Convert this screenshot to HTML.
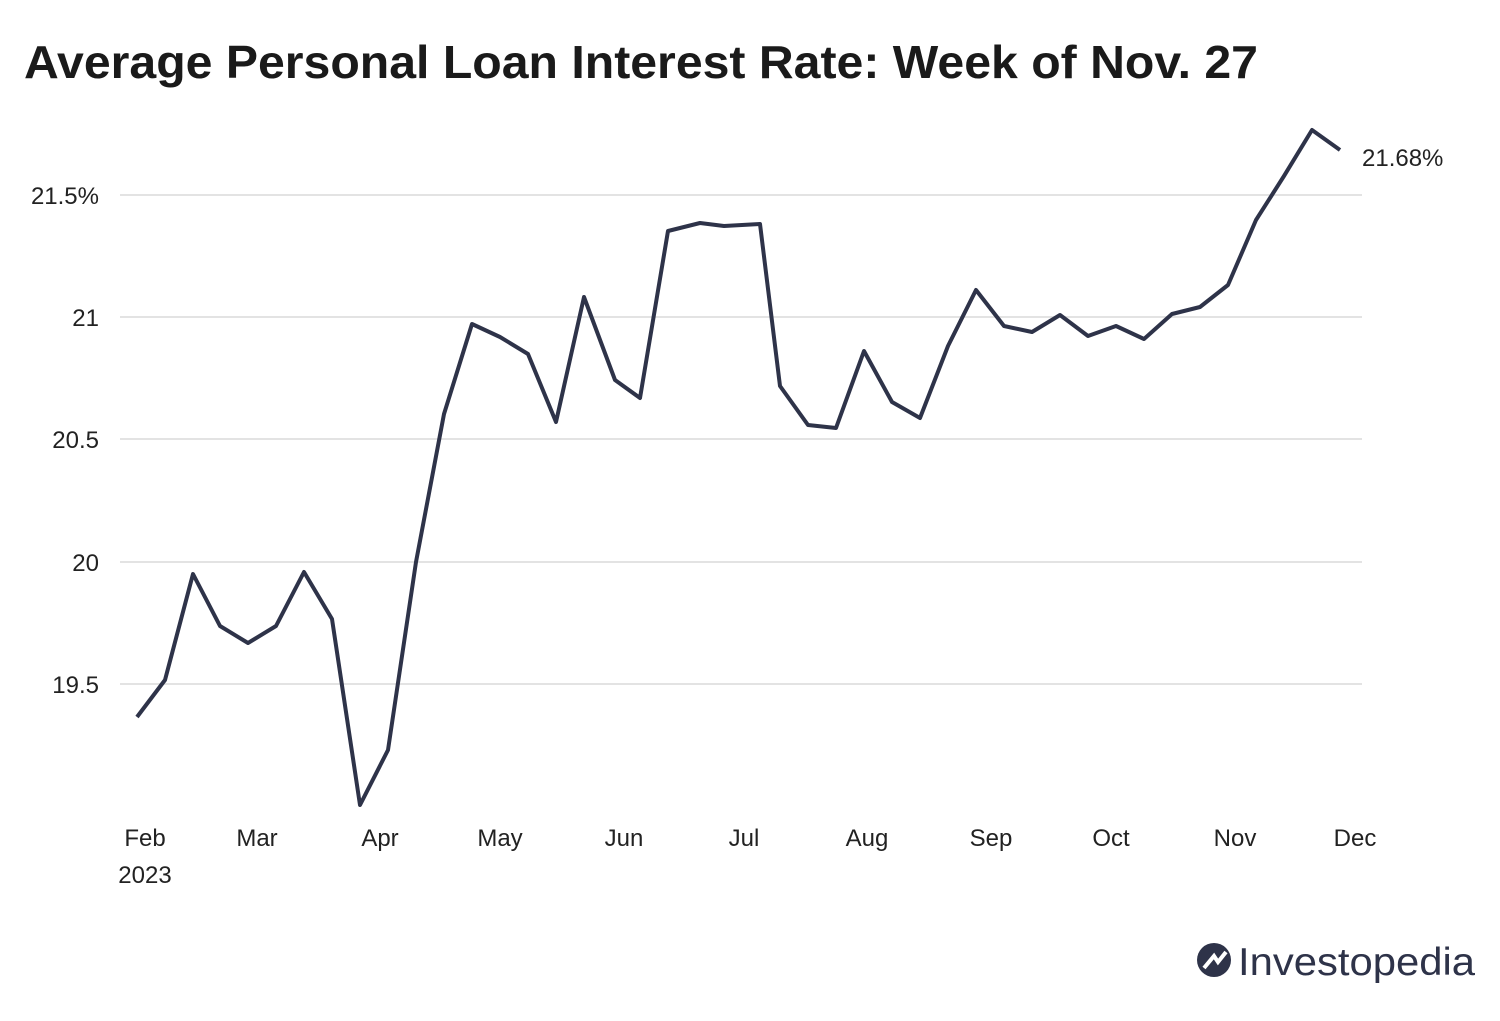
<!DOCTYPE html>
<html><head><meta charset="utf-8"><style>
body{margin:0;background:#fff;width:1500px;height:1016px;overflow:hidden;font-family:"Liberation Sans",sans-serif}
</style></head><body>
<svg width="1500" height="1016" xmlns="http://www.w3.org/2000/svg" font-family="Liberation Sans, sans-serif">
<text x="24" y="78" font-size="46" font-weight="bold" fill="#1a1a1a" textLength="1234" lengthAdjust="spacingAndGlyphs">Average Personal Loan Interest Rate: Week of Nov. 27</text>
<g stroke="#e3e3e3" stroke-width="2">
<line x1="120" y1="195" x2="1362" y2="195"/><line x1="120" y1="317" x2="1362" y2="317"/>
<line x1="120" y1="439" x2="1362" y2="439"/><line x1="120" y1="562" x2="1362" y2="562"/>
<line x1="120" y1="684" x2="1362" y2="684"/></g>
<g font-size="24" fill="#222" text-anchor="end">
<text x="99" y="204">21.5%</text><text x="99" y="326">21</text><text x="99" y="448">20.5</text>
<text x="99" y="571">20</text><text x="99" y="693">19.5</text></g>
<g font-size="24" fill="#222" text-anchor="middle">
<text x="145" y="846">Feb</text><text x="145" y="883">2023</text><text x="257" y="846">Mar</text><text x="380" y="846">Apr</text>
<text x="500" y="846">May</text><text x="624" y="846">Jun</text><text x="744" y="846">Jul</text><text x="867" y="846">Aug</text>
<text x="991" y="846">Sep</text><text x="1111" y="846">Oct</text><text x="1235" y="846">Nov</text><text x="1355" y="846">Dec</text></g>
<polyline fill="none" stroke="#2e3349" stroke-width="4" stroke-linejoin="round" points="137,717 165,680 193,574 220,626 248,643 276,626 304,572 332,619 360,805 388,750 416,562 444,414 472,324 500,337 528,354 556,422 584,297 615,380 640,398 668,231 700,223 724,226 760,224 780,386 808,425 836,428 864,351 892,402 920,418 948,346 976,290 1004,326 1032,332 1060,315 1088,336 1116,326 1144,339 1172,314 1200,307 1228,285 1256,220 1284,176 1312,130 1340,150"/>
<text x="1362" y="166" font-size="24" fill="#222">21.68%</text>
<circle cx="1214" cy="960" r="17" fill="#2e3349"/>
<path d="M1204 968 L1214 956 L1218 962 L1226 952" stroke="#fff" stroke-width="4" fill="none"/>
<text x="1238" y="975" font-size="39" fill="#2e3349" textLength="1237" lengthAdjust="spacingAndGlyphs" style="text-rendering:geometricPrecision"></text>
<text x="1238" y="975" font-size="39" fill="#2e3349" textLength="237" lengthAdjust="spacingAndGlyphs">Investopedia</text>
</svg>
</body></html>
